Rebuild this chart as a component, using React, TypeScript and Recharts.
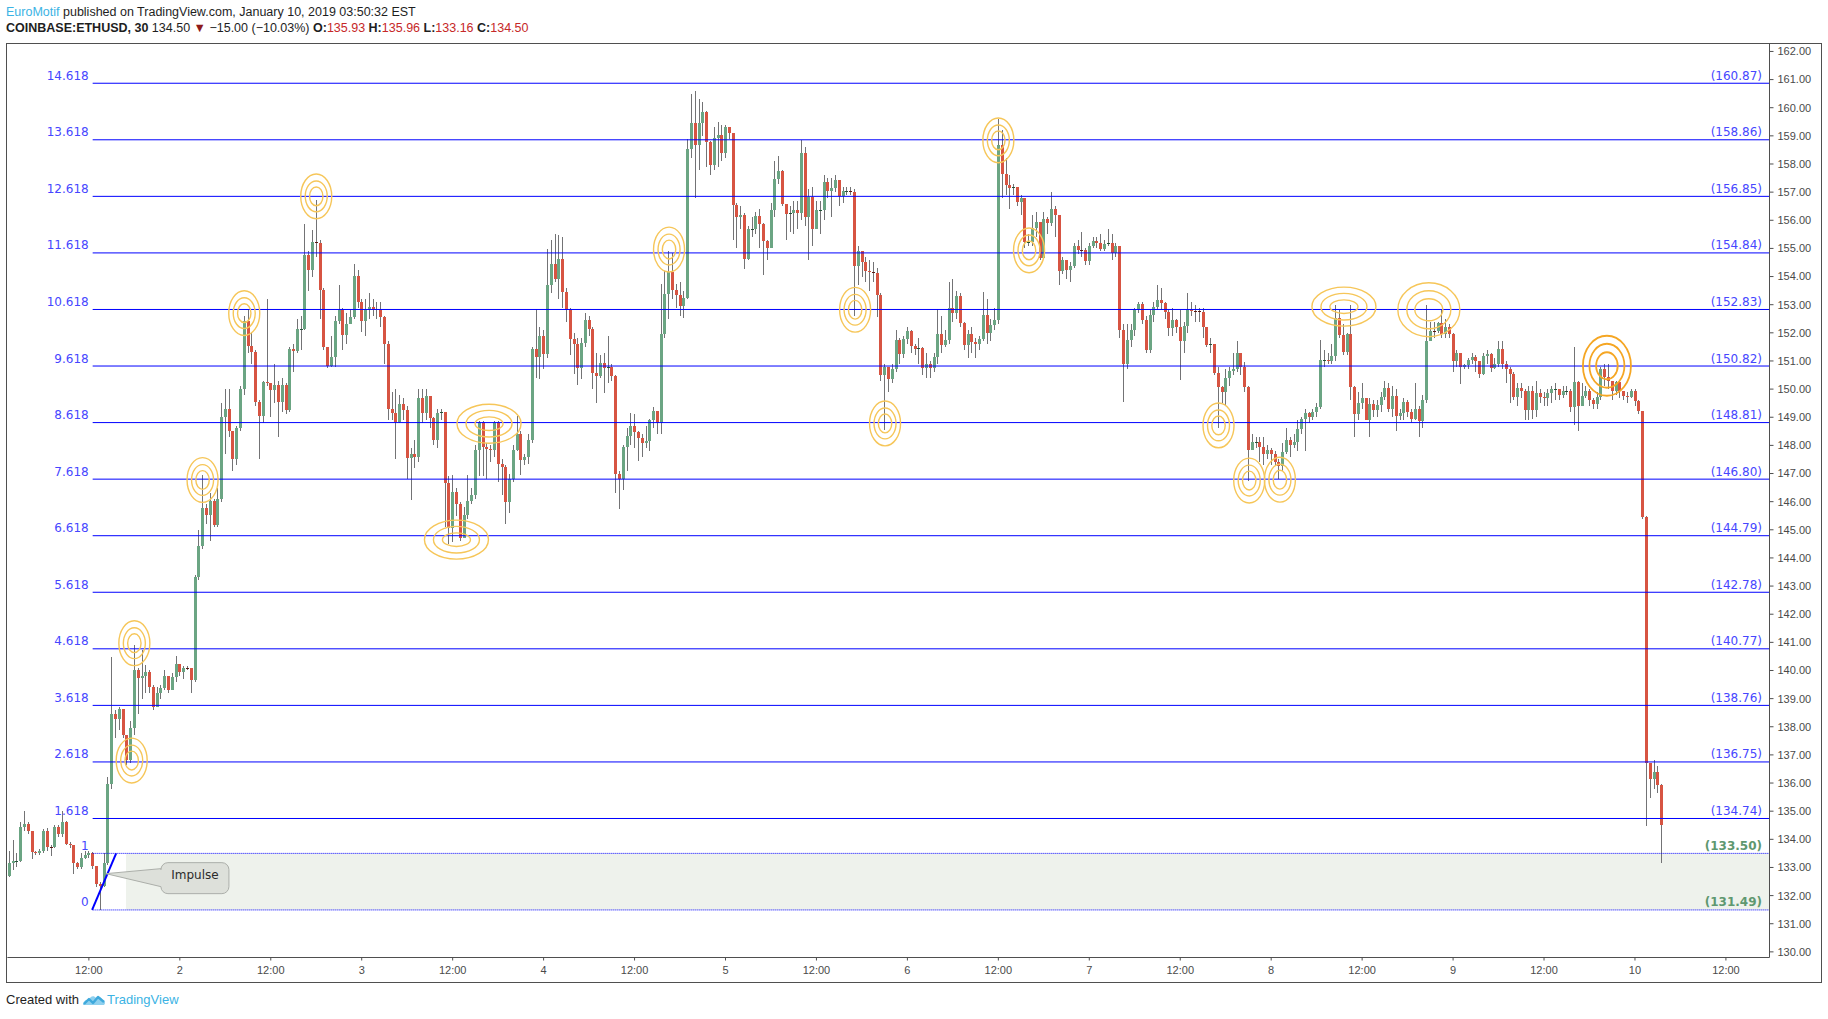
import React from 'react'
import {
  ComposedChart,
  Bar,
  XAxis,
  YAxis,
  ReferenceLine,
  ReferenceArea,
  ReferenceDot,
} from 'recharts'

// 30 minute candles, COINBASE:ETHUSD. Each entry is [high, low, close];
// the open of a candle is the close of the one before it.
type Candle = [number, number, number]

const FIRST_OPEN = 132.7

// Jan 1, 01:30 -> 23:30
const jan01: Candle[] = [
  [133.59, 132.66, 133.17], [133.96, 132.9, 133.22], [133.5, 133.0, 133.22], [134.6, 133.2, 134.43],
  [135.02, 134.3, 134.55], [134.6, 134.2, 134.31], [134.3, 133.29, 133.54], [133.6, 133.45, 133.5],
  [133.65, 133.45, 133.58], [134.35, 133.5, 134.31], [134.4, 133.6, 133.74], [133.8, 133.4, 133.72],
  [134.5, 133.7, 134.43], [134.5, 134.1, 134.18], [135.0, 134.1, 134.63], [134.65, 133.8, 133.84],
  [133.9, 133.7, 133.79], [133.8, 132.78, 133.17], [133.2, 132.95, 133.0], [133.5, 132.95, 133.34],
  [133.6, 133.3, 133.45], [133.6, 133.35, 133.5], [133.55, 132.95, 133.05], [133.05, 132.3, 132.41],
  [132.5, 131.5, 132.33], [133.5, 132.3, 133.17], [136.2, 133.1, 135.97], [140.47, 135.8, 138.46],
  [138.6, 137.6, 138.29], [138.7, 137.9, 138.63], [138.63, 137.6, 137.7], [137.7, 136.65, 136.81],
  [138.2, 136.7, 137.96], [140.9, 137.7, 140.0], [140.1, 138.46, 139.72], [140.72, 139.0, 139.8],
  [140.2, 139.2, 139.94], [140.0, 139.2, 139.43], [139.5, 138.6, 138.71], [139.4, 138.7, 139.21],
  [139.5, 139.0, 139.38], [140.0, 139.3, 139.8], [139.8, 139.2, 139.3], [139.9, 139.3, 139.77],
  [140.5, 139.6, 140.22],
]

const jan02: Candle[] = [
  [140.2, 139.8, 139.94], [140.15, 139.7, 140.1], [140.15, 140.0, 140.09], [140.1, 139.21, 139.67],
  [143.4, 139.6, 143.33], [145.0, 143.2, 144.42], [146.94, 144.3, 145.77], [145.9, 145.2, 145.52],
  [146.3, 144.6, 146.02], [146.1, 145.1, 145.18], [146.5, 145.1, 146.1], [149.5, 146.0, 149.01],
  [150.0, 147.7, 149.29], [150.0, 148.3, 148.5], [148.5, 147.1, 147.5], [148.7, 147.3, 148.62],
  [150.1, 148.5, 150.01], [152.6, 149.8, 152.43], [152.8, 151.3, 151.53], [152.0, 150.9, 151.31],
  [151.4, 149.4, 149.54], [149.6, 147.5, 149.04], [150.3, 148.8, 150.25], [153.2, 150.1, 150.2],
  [150.2, 149.0, 149.96], [150.9, 149.5, 150.13], [150.3, 148.3, 149.54], [150.4, 149.2, 150.13],
  [150.2, 149.1, 149.24], [151.5, 149.2, 151.43], [151.6, 150.6, 151.35], [152.5, 151.3, 152.15],
  [152.6, 151.4, 152.15], [155.88, 152.1, 154.78], [154.9, 153.5, 154.22], [155.64, 154.0, 155.23],
  [156.71, 154.7, 155.2], [155.3, 152.5, 153.51], [153.6, 151.4, 151.49], [151.5, 150.75, 150.81],
  [151.9, 150.78, 151.14], [152.6, 150.8, 152.41], [153.69, 152.3, 152.82], [152.9, 151.4, 151.91],
  [152.7, 151.6, 152.32], [152.8, 152.3, 152.58], [154.43, 152.5, 154.01], [154.22, 152.9, 153.09],
]

const jan03: Candle[] = [
  [153.2, 152.03, 152.41], [153.2, 151.9, 152.86], [153.4, 152.5, 152.92], [153.2, 152.6, 152.86],
  [153.1, 152.5, 152.8], [153.1, 152.2, 152.56], [152.6, 150.9, 151.61], [151.7, 148.9, 149.3],
  [149.9, 148.9, 149.15], [150.0, 147.5, 148.83], [149.8, 148.8, 149.46], [149.7, 148.9, 149.27],
  [149.4, 146.81, 147.55], [147.9, 146.07, 147.7], [148.2, 147.2, 147.58], [150.01, 147.4, 149.68],
  [150.0, 148.8, 149.16], [150.01, 148.9, 149.74], [149.7, 148.6, 148.98], [149.0, 148.0, 148.2],
  [149.3, 147.9, 149.16], [149.3, 148.9, 149.18], [149.2, 145.1, 146.66], [146.9, 144.5, 145.06],
  [146.96, 144.56, 146.36], [146.5, 145.5, 145.93], [146.0, 144.6, 144.71], [145.8, 144.7, 145.51],
  [146.95, 145.4, 146.02], [146.5, 145.9, 146.22], [148.0, 146.1, 147.82], [148.85, 146.9, 148.83],
  [148.85, 146.9, 147.96], [148.1, 146.81, 147.88], [148.0, 147.4, 147.82], [148.85, 147.6, 148.83],
  [148.85, 146.7, 147.35], [147.5, 146.25, 147.23], [147.3, 145.19, 145.99], [147.0, 145.6, 146.81],
  [148.0, 146.7, 147.85], [149.03, 147.8, 148.41], [148.5, 146.93, 147.49], [147.7, 147.3, 147.58],
  [148.4, 147.35, 148.2], [151.5, 148.1, 151.44], [152.86, 150.4, 151.14], [152.2, 150.37, 151.88],
]

const jan04: Candle[] = [
  [152.1, 150.7, 151.23], [154.99, 151.1, 153.69], [155.31, 153.4, 154.46], [155.52, 153.8, 153.92],
  [155.46, 153.2, 154.61], [155.4, 152.9, 153.45], [153.6, 152.4, 152.82], [152.9, 151.2, 151.79],
  [152.0, 150.55, 151.61], [151.8, 150.13, 150.76], [151.8, 150.37, 151.64], [152.7, 151.5, 152.47],
  [152.6, 151.9, 152.15], [152.2, 150.0, 150.56], [151.3, 149.49, 150.48], [151.2, 150.4, 150.92],
  [151.3, 149.85, 150.75], [151.9, 150.2, 150.77], [150.9, 150.3, 150.48], [150.5, 146.32, 147.0],
  [147.1, 145.73, 146.8], [148.0, 146.4, 147.95], [148.6, 147.1, 148.34], [149.15, 148.0, 148.7],
  [149.1, 147.9, 148.46], [148.5, 147.45, 148.28], [148.4, 147.6, 148.1], [148.7, 147.9, 148.14],
  [148.95, 147.8, 148.9], [149.35, 148.6, 149.23], [149.2, 148.4, 148.81], [153.75, 148.4, 151.96],
  [154.2, 151.8, 153.39], [154.9, 152.5, 154.16], [154.85, 153.2, 153.51], [153.75, 152.9, 153.33],
  [153.8, 152.6, 152.97], [153.5, 152.53, 153.25], [158.9, 153.2, 158.52], [160.47, 158.2, 159.47],
  [160.6, 156.8, 158.67], [160.3, 157.8, 159.47], [160.22, 159.0, 159.84], [159.9, 157.9, 158.79],
  [158.8, 157.6, 157.98], [159.3, 157.8, 158.94], [159.5, 157.9, 159.03], [159.4, 158.1, 158.4],
]

const jan05: Candle[] = [
  [159.4, 158.2, 159.3], [159.3, 158.9, 159.11], [159.1, 155.3, 156.56], [156.6, 155.03, 156.12],
  [156.5, 155.7, 156.2], [156.25, 154.28, 154.64], [155.8, 154.6, 155.7], [156.1, 155.4, 155.7],
  [156.3, 155.5, 156.14], [156.4, 155.0, 155.86], [155.9, 154.04, 155.27], [155.3, 154.6, 155.03],
  [156.6, 155.0, 156.38], [158.1, 156.1, 157.45], [158.3, 157.3, 157.76], [157.8, 156.5, 156.59],
  [156.5, 155.3, 156.24], [156.5, 155.6, 156.26], [156.7, 155.5, 156.38], [156.7, 155.7, 156.26],
  [158.85, 156.0, 158.4], [158.6, 155.8, 156.12], [157.1, 154.6, 156.83], [157.2, 155.1, 155.7],
  [156.7, 155.7, 156.36], [156.7, 155.5, 156.36], [157.6, 156.0, 157.36], [157.5, 156.8, 157.05],
  [157.5, 156.1, 157.13], [157.6, 157.0, 157.43], [157.4, 156.5, 156.86], [157.2, 156.6, 157.03],
  [157.2, 156.9, 157.03], [157.2, 156.9, 157.0], [157.1, 152.6, 154.37], [155.1, 153.7, 154.9],
  [154.9, 154.0, 154.52], [154.7, 153.8, 154.2], [154.6, 153.5, 154.16], [154.5, 153.8, 154.14],
  [154.3, 152.56, 153.33], [153.4, 150.3, 150.49], [150.9, 148.54, 150.79], [150.8, 149.9, 150.37],
  [150.9, 150.2, 150.73], [152.1, 150.6, 151.76], [151.8, 150.9, 151.26], [151.9, 151.1, 151.79],
]

const jan06: Candle[] = [
  [152.2, 151.6, 152.07], [152.1, 151.3, 151.52], [151.6, 151.2, 151.44], [151.8, 150.9, 151.46],
  [151.5, 150.5, 150.76], [151.3, 150.4, 150.88], [151.0, 150.4, 150.76], [151.3, 150.6, 151.14],
  [152.83, 150.9, 151.95], [152.6, 151.3, 151.58], [152.1, 151.5, 151.76], [153.81, 151.6, 152.9],
  [153.9, 152.4, 152.71], [153.5, 152.5, 153.3], [153.4, 152.2, 152.35], [152.4, 151.4, 151.58],
  [152.1, 151.1, 151.95], [152.2, 151.3, 151.68], [151.8, 151.1, 151.59], [151.9, 151.4, 151.79],
  [153.45, 151.7, 152.62], [153.2, 151.6, 151.99], [152.5, 151.7, 152.27], [152.9, 152.1, 152.45],
  [159.6, 152.3, 158.69], [159.2, 156.8, 157.65], [158.2, 156.9, 157.27], [157.6, 156.4, 157.16],
  [157.3, 156.9, 157.18], [157.2, 156.5, 156.65], [156.9, 156.2, 156.8], [156.8, 155.0, 155.23],
  [155.5, 155.1, 155.23], [156.2, 155.1, 155.74], [156.3, 155.4, 155.94], [155.9, 154.6, 154.66],
  [156.3, 154.7, 156.06], [156.1, 155.5, 155.9], [157.0, 155.8, 156.41], [156.5, 155.4, 156.17],
  [156.2, 153.7, 154.19], [154.7, 154.1, 154.6], [154.6, 153.9, 154.22], [154.5, 153.8, 154.36],
  [155.2, 154.3, 155.07], [155.3, 154.8, 154.95], [155.6, 154.7, 154.93], [155.0, 154.4, 154.55],
]

const jan07: Candle[] = [
  [155.2, 154.4, 155.07], [155.4, 155.0, 155.26], [155.4, 155.0, 155.19], [155.5, 154.9, 154.99],
  [155.3, 154.9, 155.17], [155.7, 155.1, 155.19], [155.5, 154.6, 154.84], [155.2, 154.7, 155.07],
  [155.1, 151.8, 152.11], [152.3, 149.55, 150.88], [152.3, 150.7, 151.76], [152.3, 151.5, 152.11],
  [152.9, 151.9, 152.83], [153.1, 152.7, 153.04], [153.1, 152.3, 152.45], [152.6, 151.3, 151.38],
  [152.8, 151.3, 152.62], [153.1, 152.4, 152.92], [153.7, 152.8, 153.18], [153.6, 152.8, 153.06],
  [153.1, 152.5, 152.73], [152.8, 151.9, 152.18], [152.9, 151.9, 152.47], [152.5, 152.0, 152.22],
  [152.8, 150.33, 151.7], [152.4, 151.3, 152.23], [153.4, 152.0, 152.85], [153.1, 152.6, 152.77],
  [153.0, 152.4, 152.76], [152.9, 152.4, 152.73], [152.9, 151.8, 152.22], [152.2, 151.5, 151.57],
  [151.8, 151.3, 151.6], [151.6, 150.5, 150.57], [150.8, 148.62, 150.07], [150.1, 149.5, 149.89],
  [150.7, 149.4, 150.4], [150.8, 150.1, 150.64], [151.3, 150.5, 150.72], [151.7, 150.6, 151.29],
  [151.3, 150.5, 150.78], [150.96, 149.9, 150.07], [150.1, 146.75, 147.85], [148.4, 147.9, 148.11],
  [148.3, 147.9, 148.11], [148.3, 147.4, 147.94], [148.29, 147.3, 147.68], [148.0, 147.5, 147.84],
]

const jan08: Candle[] = [
  [147.9, 147.3, 147.68], [147.8, 147.3, 147.4], [147.5, 146.8, 147.25], [148.1, 147.1, 147.76],
  [148.6, 147.7, 148.2], [148.3, 147.6, 148.03], [148.4, 147.9, 148.11], [148.9, 147.8, 148.59],
  [149.0, 148.4, 148.94], [149.3, 147.8, 149.14], [149.2, 148.8, 149.0], [149.3, 148.9, 149.18],
  [149.5, 149.0, 149.36], [151.75, 149.3, 151.04], [151.4, 150.8, 151.04], [151.3, 150.9, 150.99],
  [151.6, 150.9, 151.19], [153.0, 151.0, 152.53], [152.8, 151.8, 151.93], [152.3, 151.2, 151.31],
  [152.0, 151.2, 151.96], [153.0, 149.6, 150.09], [150.1, 148.3, 149.12], [149.9, 148.9, 149.5],
  [150.2, 149.3, 149.68], [149.7, 148.9, 148.91], [149.7, 148.3, 149.48], [149.6, 149.0, 149.26],
  [149.6, 149.0, 149.42], [149.9, 149.2, 149.71], [150.3, 149.6, 150.05], [150.2, 149.2, 149.3],
  [150.1, 149.0, 149.77], [150.0, 148.5, 149.03], [149.3, 148.9, 149.15], [149.7, 148.9, 149.53],
  [149.6, 149.0, 149.18], [149.3, 148.8, 148.94], [150.2, 148.9, 149.3], [149.4, 148.3, 148.86],
  [149.8, 148.6, 149.62], [153.0, 149.5, 151.7], [152.4, 151.7, 152.08], [152.4, 151.8, 152.06],
  [152.4, 152.0, 152.34], [152.8, 151.8, 151.96], [152.5, 151.8, 152.22], [152.3, 151.8, 151.96],
]

const jan09: Candle[] = [
  [152.0, 150.6, 151.0], [151.4, 150.8, 151.3], [151.3, 150.18, 150.8], [150.9, 150.7, 150.87],
  [151.1, 150.7, 151.03], [151.3, 150.9, 151.15], [151.2, 150.6, 151.0], [151.0, 150.4, 150.52],
  [151.3, 150.5, 151.18], [151.4, 150.9, 151.26], [151.3, 150.6, 150.75], [151.1, 150.7, 150.9],
  [151.7, 150.8, 151.41], [151.7, 150.7, 150.9], [151.0, 150.2, 150.72], [150.8, 149.49, 150.53],
  [150.6, 149.6, 149.72], [150.2, 149.4, 150.03], [150.2, 149.7, 149.95], [150.0, 148.9, 149.26],
  [150.1, 148.9, 149.95], [150.1, 148.95, 149.26], [150.3, 149.0, 149.87], [150.0, 149.5, 149.72],
  [149.9, 149.4, 149.67], [150.0, 149.4, 149.87], [150.1, 149.5, 150.0], [150.2, 149.6, 150.0],
  [150.0, 149.6, 149.8], [150.1, 149.7, 149.95], [150.1, 149.8, 149.95], [150.0, 149.2, 149.36],
  [151.49, 148.72, 150.26], [150.3, 148.52, 149.41], [150.2, 149.4, 149.76], [150.1, 149.7, 149.95],
  [150.0, 149.4, 149.61], [149.7, 149.3, 149.46], [149.9, 149.3, 149.72], [150.8, 149.6, 150.72],
  [150.9, 150.1, 150.44], [150.9, 150.0, 150.29], [150.3, 149.6, 149.92], [150.3, 149.8, 150.26],
  [150.3, 149.7, 149.92], [149.95, 149.6, 149.76], [149.9, 149.5, 149.72], [150.0, 149.7, 149.95],
]

// Jan 10, 00:00 -> 03:30
const jan10: Candle[] = [
  [150.0, 149.4, 149.56], [149.6, 149.1, 149.21], [149.2, 145.4, 145.45], [145.5, 134.46, 136.7],
  [136.7, 135.46, 136.16], [136.82, 135.8, 136.39], [136.6, 135.65, 135.93], [135.96, 133.16, 134.5],
]

const SLOT_COUNT = 465 // candles plus the empty space on the right

const TIME_TICKS = [21, 45, 69, 93, 117, 141, 165, 189, 213, 237, 261, 285, 309, 333, 357, 381, 405, 429, 453]
const TIME_LABELS = ['12:00', '2', '12:00', '3', '12:00', '4', '12:00', '5', '12:00', '6', '12:00', '7', '12:00', '8', '12:00', '9', '12:00', '10', '12:00']

const PRICE_TICKS = [
  130, 131, 132, 133, 134, 135, 136, 137, 138, 139, 140, 141, 142, 143, 144, 145, 146,
  147, 148, 149, 150, 151, 152, 153, 154, 155, 156, 157, 158, 159, 160, 161, 162,
]

// Fibonacci extension drawn from the impulse leg
const FIB_RATIOS = ['0', '1', '1.618', '2.618', '3.618', '4.618', '5.618', '6.618', '7.618', '8.618', '9.618', '10.618', '11.618', '12.618', '13.618', '14.618']
const FIB_PRICES = [131.49, 133.5, 134.74, 136.75, 138.76, 140.77, 142.78, 144.79, 146.8, 148.81, 150.82, 152.83, 154.84, 156.85, 158.86, 160.87]
const FIB_START = 22
const ZONE_START = 30.8

const IMPULSE_LEG = [
  { i: 21.85, p: 131.49 },
  { i: 28.2, p: 133.5 },
]
const CALLOUT_AT = { i: 25.5, p: 132.78, text: 'Impulse' }

// rings marking where price reacted on a level
const TOUCH_INDEX = [32.3, 33, 51, 62, 81, 118, 126.6, 174.1, 223.2, 231.1, 261, 269.1, 319.1, 327.2, 335.3, 352.2, 374.6, 421.6]
const TOUCH_PRICE = [136.8, 140.97, 146.77, 152.7, 156.85, 144.65, 148.77, 154.96, 152.82, 148.78, 158.84, 154.93, 148.71, 146.75, 146.78, 152.93, 152.82, 150.83]
const TOUCH_KIND = ['ring', 'ring', 'ring', 'ring', 'ring', 'wide', 'wide', 'ring', 'ring', 'ring', 'ring', 'ring', 'ring', 'ring', 'ring', 'wide', 'big', 'bold']

const RING_STYLES: Record<string, { rx: number[]; ry: number[]; stroke: string; width: number }> = {
  ring: { rx: [15.5, 11, 6.7], ry: [22.4, 15.4, 9.4], stroke: '#f6c659', width: 1.4 },
  wide: { rx: [32, 23, 14], ry: [19.5, 13.3, 6.8], stroke: '#f6c659', width: 1.4 },
  big: { rx: [31, 22, 14], ry: [27, 19, 11], stroke: '#f6c659', width: 1.4 },
  bold: { rx: [24, 17.5, 10.8], ry: [30, 22, 13.5], stroke: '#f5a623', width: 1.8 },
}

const UP = '#6ba583'
const DOWN = '#d75442'
const UP_DARK = '#225437'
const DOWN_DARK = '#5b1a13'
const WICK = '#737375'
const FIB_BLUE = '#0000ff'
const LABEL_BLUE = '#4646ff'
const ZONE_GREEN = '#5f9870'
const AXIS_GREY = '#4f4f4f'
const SANS = '"Liberation Sans", Arial, sans-serif'
const VERDANA = '"DejaVu Sans", Verdana, sans-serif'

const candles: Candle[] = [...jan01, ...jan02, ...jan03, ...jan04, ...jan05, ...jan06, ...jan07, ...jan08, ...jan09, ...jan10]

const rows: any[] = Array.from({ length: SLOT_COUNT }, (_, i) => ({ i }))
let prevClose = FIRST_OPEN
candles.forEach(([h, l, c], i) => {
  const open = prevClose
  const high = Math.max(h, open, c)
  const low = Math.min(l, open, c)
  rows[i] = { i, open, high, low, close: c, range: [low, high] }
  prevClose = c
})

function CandleShape(props: any) {
  const { x, y, width, height, payload } = props
  if (!payload || !payload.range) return null
  const { open, close, high, low } = payload
  const top = Math.min(y, y + height)
  const span = Math.abs(height)
  const toY = (v: number) => (high === low ? top : top + ((high - v) / (high - low)) * span)
  const left = Math.round(x + width / 2 - 1.5)
  const cx = left + 1.5
  const up = close >= open
  const bodyTop = toY(Math.max(open, close))
  const bodyBottom = toY(Math.min(open, close))
  const flat = bodyBottom - bodyTop < 1
  return (
    <g shapeRendering="crispEdges">
      <line x1={cx} x2={cx} y1={top} y2={top + span} stroke={WICK} strokeWidth={1} />
      {flat ? (
        <rect x={left} y={Math.round(bodyTop)} width={3} height={1} fill={up ? UP_DARK : DOWN_DARK} />
      ) : (
        <rect x={left} y={bodyTop} width={3} height={bodyBottom - bodyTop} fill={up ? UP : DOWN} />
      )}
    </g>
  )
}

function Rings({ cx, cy, kind }: { cx: number; cy: number; kind: string }) {
  const s = RING_STYLES[kind]
  return (
    <g>
      {s.rx.map((rx, k) => (
        <ellipse key={k} cx={cx} cy={cy} rx={rx} ry={s.ry[k]} fill="none" stroke={s.stroke} strokeWidth={s.width} />
      ))}
    </g>
  )
}

function Callout({ cx, cy, text }: { cx: number; cy: number; text: string }) {
  const x0 = cx + 55
  const y0 = cy - 11
  const w = 68
  const h = 31
  const r = 7
  const d = `M${x0 + r},${y0} H${x0 + w - r} A${r},${r} 0 0 1 ${x0 + w},${y0 + r} V${y0 + h - r} A${r},${r} 0 0 1 ${x0 + w - r},${y0 + h} H${x0 + r} A${r},${r} 0 0 1 ${x0},${y0 + h - r} V${cy + 13} L${cx},${cy} L${x0},${cy - 5} V${y0 + r} A${r},${r} 0 0 1 ${x0 + r},${y0} Z`
  return (
    <g>
      <path d={d} fill="#dde0da" stroke="#acafaa" strokeWidth={1} />
      <text x={x0 + w / 2} y={cy + 5} textAnchor="middle" fontFamily={VERDANA} fontSize={12} fill="#2b2b2b">
        {text}
      </text>
    </g>
  )
}

function Header() {
  const red = { color: '#c62828' }
  return (
    <>
      <div style={{ position: 'absolute', left: 6, top: 5, fontFamily: SANS, fontSize: 12.5, lineHeight: '14px', color: '#1e1e1e', whiteSpace: 'nowrap' }}>
        <span style={{ color: '#3bb3e4' }}>EuroMotif</span> published on TradingView.com, January 10, 2019 03:50:32 EST
      </div>
      <div style={{ position: 'absolute', left: 6, top: 21, fontFamily: SANS, fontSize: 12.5, lineHeight: '14px', color: '#1e1e1e', whiteSpace: 'nowrap' }}>
        <b>COINBASE:ETHUSD, 30</b> 134.50 <span style={{ color: '#8e1a1a' }}>▼</span> −15.00 (−10.03%) <b>O:</b>
        <span style={red}>135.93</span> <b>H:</b>
        <span style={red}>135.96</span> <b>L:</b>
        <span style={red}>133.16</span> <b>C:</b>
        <span style={red}>134.50</span>
      </div>
    </>
  )
}

function Footer() {
  return (
    <div style={{ position: 'absolute', left: 6, top: 992, fontFamily: SANS, fontSize: 13, lineHeight: '16px', color: '#1e1e1e', whiteSpace: 'nowrap', display: 'flex', alignItems: 'center' }}>
      <span>Created with</span>
      <svg width={24} height={16} viewBox="0 0 24 16" style={{ margin: '0 1px 0 3px' }}>
        <path d="M1 13 C1 9 4 7 7 8 C8 4 12 3 14 6 C16 4 20 5 20 8 C23 8 24 11 22 13 Z" fill="#8fd0ee" />
        <polyline points="2,12 7,7 11,11 16,5 22,10" fill="none" stroke="#3fa9dc" strokeWidth={2.4} strokeLinejoin="round" />
      </svg>
      <span style={{ color: '#3bb3e4' }}>TradingView</span>
    </div>
  )
}

export default function App() {
  return (
    <div style={{ position: 'relative', width: 1828, height: 1019, background: '#fff', overflow: 'hidden' }}>
      <style>{'body{margin:0;background:#fff}'}</style>
      <Header />
      <div style={{ position: 'absolute', left: 6, top: 43, width: 1816, height: 940, boxSizing: 'border-box', border: `1px solid ${AXIS_GREY}` }} />
      <div style={{ position: 'absolute', left: 0, top: 0 }}>
        <ComposedChart
          width={1828}
          height={1019}
          data={rows}
          margin={{ top: 43, right: 6.5, left: 7.4, bottom: 36.5 }}
          barCategoryGap={0}
        >
          <XAxis
            xAxisId="num"
            dataKey="i"
            type="number"
            domain={[-0.5, SLOT_COUNT - 0.5]}
            allowDataOverflow
            ticks={TIME_TICKS}
            interval={0}
            height={25}
            tickFormatter={(v: number) => TIME_LABELS[TIME_TICKS.indexOf(v)] ?? ''}
            tick={{ fill: '#4a4a4a', fontSize: 11, fontFamily: SANS }}
            tickSize={3}
            tickMargin={6}
            axisLine={{ stroke: AXIS_GREY }}
            tickLine={{ stroke: AXIS_GREY }}
          />
          <XAxis xAxisId="cat" dataKey="i" type="category" hide height={0} />
          <YAxis
            orientation="right"
            domain={[129.8, 162.3]}
            allowDataOverflow
            ticks={PRICE_TICKS}
            interval={0}
            width={52}
            tickFormatter={(v: number) => v.toFixed(2)}
            tick={{ fill: '#4a4a4a', fontSize: 11, fontFamily: SANS }}
            tickSize={4}
            tickMargin={4}
            axisLine={{ stroke: AXIS_GREY }}
            tickLine={{ stroke: AXIS_GREY }}
          />

          <ReferenceArea
            xAxisId="num"
            x1={ZONE_START}
            x2={SLOT_COUNT - 0.5}
            y1={FIB_PRICES[0]}
            y2={FIB_PRICES[1]}
            fill="#eef2ec"
            fillOpacity={1}
            stroke="none"
          />

          <Bar xAxisId="cat" dataKey="range" shape={CandleShape} isAnimationActive={false} />

          {FIB_PRICES.map((p, k) => (
            <ReferenceLine
              key={`fib-${k}`}
              xAxisId="num"
              segment={[{ x: FIB_START, y: p }, { x: SLOT_COUNT - 0.5, y: p }]}
              stroke={FIB_BLUE}
              strokeWidth={1}
              strokeDasharray={k < 2 ? '1 1' : undefined}
            />
          ))}

          <ReferenceLine
            xAxisId="num"
            segment={[{ x: IMPULSE_LEG[0].i, y: IMPULSE_LEG[0].p }, { x: IMPULSE_LEG[1].i, y: IMPULSE_LEG[1].p }]}
            stroke={FIB_BLUE}
            strokeWidth={2}
          />

          {FIB_PRICES.map((p, k) => (
            <ReferenceDot
              key={`ratio-${k}`}
              xAxisId="num"
              x={FIB_START}
              y={p}
              shape={(s: any) => (
                <text x={s.cx - 4} y={s.cy - 3.5} textAnchor="end" fontFamily={VERDANA} fontSize={12} fill={LABEL_BLUE}>
                  {FIB_RATIOS[k]}
                </text>
              )}
            />
          ))}
          {FIB_PRICES.map((p, k) => (
            <ReferenceDot
              key={`price-${k}`}
              xAxisId="num"
              x={SLOT_COUNT - 0.5}
              y={p}
              shape={(s: any) => (
                <text
                  x={s.cx - 7.5}
                  y={s.cy - 3.5}
                  textAnchor="end"
                  fontFamily={VERDANA}
                  fontSize={12}
                  fontWeight={k < 2 ? 'bold' : 'normal'}
                  fill={k < 2 ? ZONE_GREEN : LABEL_BLUE}
                >
                  {`(${p.toFixed(2)})`}
                </text>
              )}
            />
          ))}

          {TOUCH_INDEX.map((ti, k) => (
            <ReferenceDot
              key={`touch-${k}`}
              xAxisId="num"
              x={ti}
              y={TOUCH_PRICE[k]}
              shape={(s: any) => <Rings cx={s.cx} cy={s.cy} kind={TOUCH_KIND[k]} />}
            />
          ))}

          <ReferenceDot
            xAxisId="num"
            x={CALLOUT_AT.i}
            y={CALLOUT_AT.p}
            shape={(s: any) => <Callout cx={s.cx} cy={s.cy} text={CALLOUT_AT.text} />}
          />
        </ComposedChart>
      </div>
      <Footer />
    </div>
  )
}
